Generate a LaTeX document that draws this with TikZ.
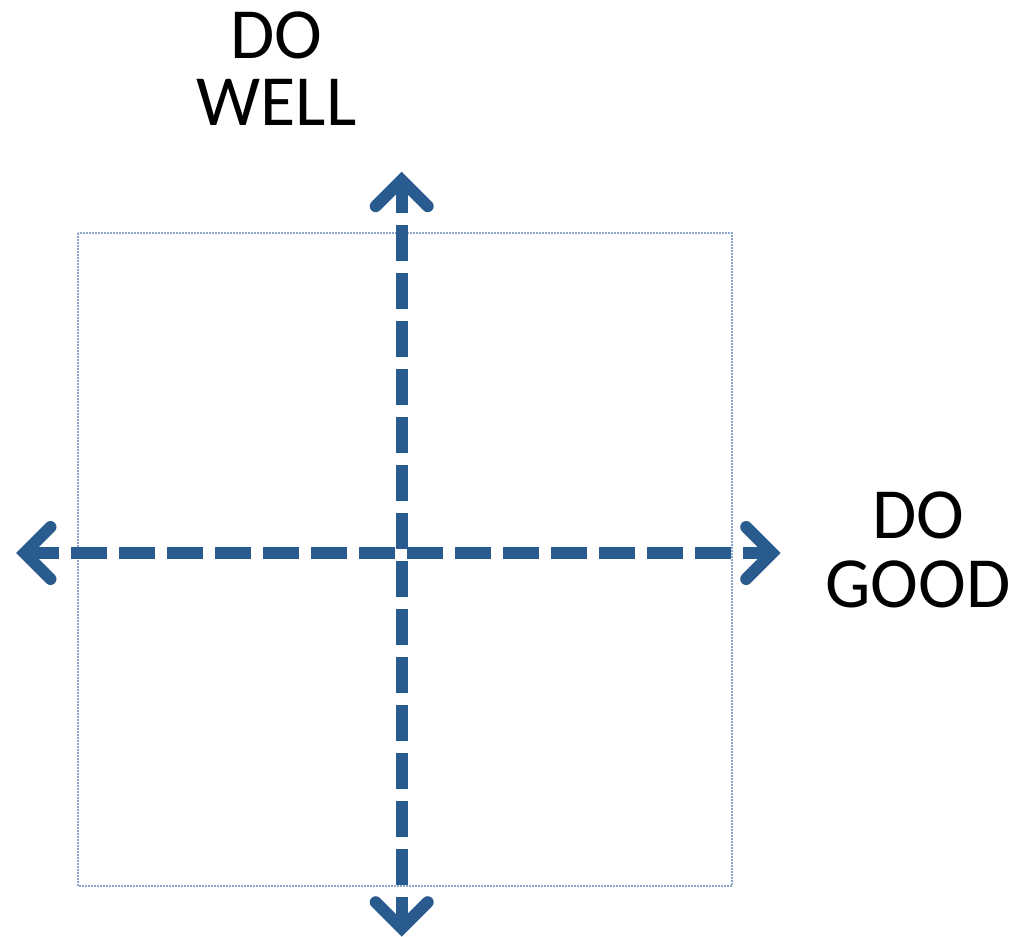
\documentclass[tikz,border=0pt]{standalone}
\usepackage{fontspec}
\setmainfont{Carlito}
\definecolor{axisblue}{RGB}{42,91,143}
\definecolor{boxline}{RGB}{140,165,200}
\tikzset{
  axisline/.style={draw=axisblue, line width=12pt, line cap=butt, dash pattern=on 36pt off 12pt},
  chevron/.style={draw=axisblue, line width=12pt, line cap=round, line join=miter},
  frame/.style={draw=boxline, line width=1.4pt, dash pattern=on 2pt off 1pt},
  label/.style={font=\fontsize{72}{68}\selectfont, inner sep=0pt, anchor=base, text=black}
}
\begin{document}
\begin{tikzpicture}[x=1pt,y=-1pt]
\useasboundingbox (0,0) rectangle (1012,937);
% frame
\coordinate (boxNW) at (78,233);
\coordinate (boxSE) at (732,886);
\draw[frame] (boxNW) rectangle (boxSE);
% axis ends (chevron vertices)
\coordinate (top) at (401.7,180.2);
\coordinate (bottom) at (401.7,928.2);
\coordinate (left) at (24.5,553);
\coordinate (right) at (772.2,553);
% axes
\draw[axisline, dash phase=3pt] (top) -- (bottom);
\draw[axisline, dash phase=1.5pt] (left) -- (right);
% arrow heads
\draw[chevron] ([shift={(-26,26)}]top) -- (top) -- ([shift={(26,26)}]top);
\draw[chevron] ([shift={(-26,-26)}]bottom) -- (bottom) -- ([shift={(26,-26)}]bottom);
\draw[chevron] ([shift={(26,-26)}]left) -- (left) -- ([shift={(26,26)}]left);
\draw[chevron] ([shift={(-26,-26)}]right) -- (right) -- ([shift={(-26,26)}]right);
% labels
\node[label] (wellA) at (276.5,58) {DO};
\node[label] (wellB) at (276.5,125) {WELL};
\node[label] (goodA) at (918,538) {DO};
\node[label] (goodB) at (918,607) {GOOD};
\end{tikzpicture}
\end{document}
